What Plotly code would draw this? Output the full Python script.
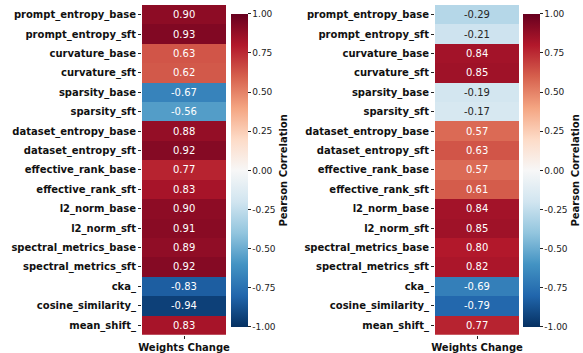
import plotly.graph_objects as go

metrics = ["prompt_entropy_base", "prompt_entropy_sft", "curvature_base", "curvature_sft",
           "sparsity_base", "sparsity_sft", "dataset_entropy_base", "dataset_entropy_sft",
           "effective_rank_base", "effective_rank_sft", "l2_norm_base", "l2_norm_sft",
           "spectral_metrics_base", "spectral_metrics_sft", "cka_", "cosine_similarity_", "mean_shift_"]
column = ["Weights Change"]
left_values = [0.90, 0.93, 0.63, 0.62, -0.67, -0.56, 0.88, 0.92, 0.77, 0.83,
               0.90, 0.91, 0.89, 0.92, -0.83, -0.94, 0.83]
right_values = [-0.29, -0.21, 0.84, 0.85, -0.19, -0.17, 0.57, 0.63, 0.57, 0.61,
                0.84, 0.85, 0.80, 0.82, -0.69, -0.79, 0.77]
cbar_ticks = [1.0, 0.75, 0.5, 0.25, 0.0, -0.25, -0.5, -0.75, -1.0]

rdbu = ['rgb(5,48,97)', 'rgb(33,102,172)', 'rgb(67,147,195)', 'rgb(146,197,222)',
        'rgb(209,229,240)', 'rgb(247,247,247)', 'rgb(253,219,199)', 'rgb(244,165,130)',
        'rgb(214,96,77)', 'rgb(178,24,43)', 'rgb(103,0,31)']
colorscale = [[i / (len(rdbu) - 1), c] for i, c in enumerate(rdbu)]

W, H = 583, 353
FONT = "DejaVu Sans"

fig = go.Figure()

panels = [
    dict(vals=left_values, x0=142, x1=226, cb=231, xa="x", ya="y"),
    dict(vals=right_values, x0=435, x1=519, cb=523, xa="x2", ya="y2"),
]
y_top, y_bot = 5, 334.7
cb_top, cb_bot = 14, 326.7

for i, p in enumerate(panels):
    fig.add_trace(go.Heatmap(
        z=[[v] for v in p["vals"]], x=column, y=metrics,
        colorscale=colorscale, zmin=-1, zmax=1,
        xaxis=p["xa"], yaxis=p["ya"],
        hoverinfo="skip",
        colorbar=dict(
            x=p["cb"] / W, xanchor="left", xpad=0, ypad=0,
            y=1 - (cb_top + cb_bot) / 2 / H, yanchor="middle",
            len=(cb_bot - cb_top) / H, lenmode="fraction",
            thickness=17, thicknessmode="pixels", outlinewidth=0,
            tickvals=cbar_ticks, ticktext=[f"{t:.2f}" for t in cbar_ticks],
            ticks="outside", ticklen=3, tickwidth=1, tickcolor="#222",
            tickfont=dict(family=FONT, size=9, color="#222"),
            title=dict(text="Pearson Correlation", side="right",
                       font=dict(family=FONT, size=10, color="#111", weight="bold")),
        ),
    ))
    for m, v in zip(metrics, p["vals"]):
        fig.add_annotation(
            x=column[0], y=m, xref=p["xa"], yref=p["ya"], text=f"{v:.2f}",
            showarrow=False,
            font=dict(family=FONT, size=10, color="#262626" if abs(v) < 0.4 else "white"),
        )

axis_common = dict(showgrid=False, zeroline=False, showline=False, automargin=False,
                   ticks="outside", ticklen=3, tickwidth=1, tickcolor="#222")
fig.update_layout(
    width=W, height=H, margin=dict(l=0, r=0, t=0, b=0, autoexpand=False),
    paper_bgcolor="white", plot_bgcolor="white",
    xaxis=dict(domain=[142 / W, 226 / W], anchor="y",
               tickfont=dict(family=FONT, size=10, color="#111", weight="bold"), **axis_common),
    yaxis=dict(domain=[1 - y_bot / H, 1 - y_top / H], anchor="x", autorange="reversed",
               tickfont=dict(family=FONT, size=10, color="#111", weight="bold"), **axis_common),
    xaxis2=dict(domain=[435 / W, 519 / W], anchor="y2",
                tickfont=dict(family=FONT, size=10, color="#111", weight="bold"), **axis_common),
    yaxis2=dict(domain=[1 - y_bot / H, 1 - y_top / H], anchor="x2", autorange="reversed",
                tickfont=dict(family=FONT, size=10, color="#111", weight="bold"), **axis_common),
)

fig.write_html("out.html", config={"displayModeBar": False},
               post_script="document.body.style.margin='0';")
